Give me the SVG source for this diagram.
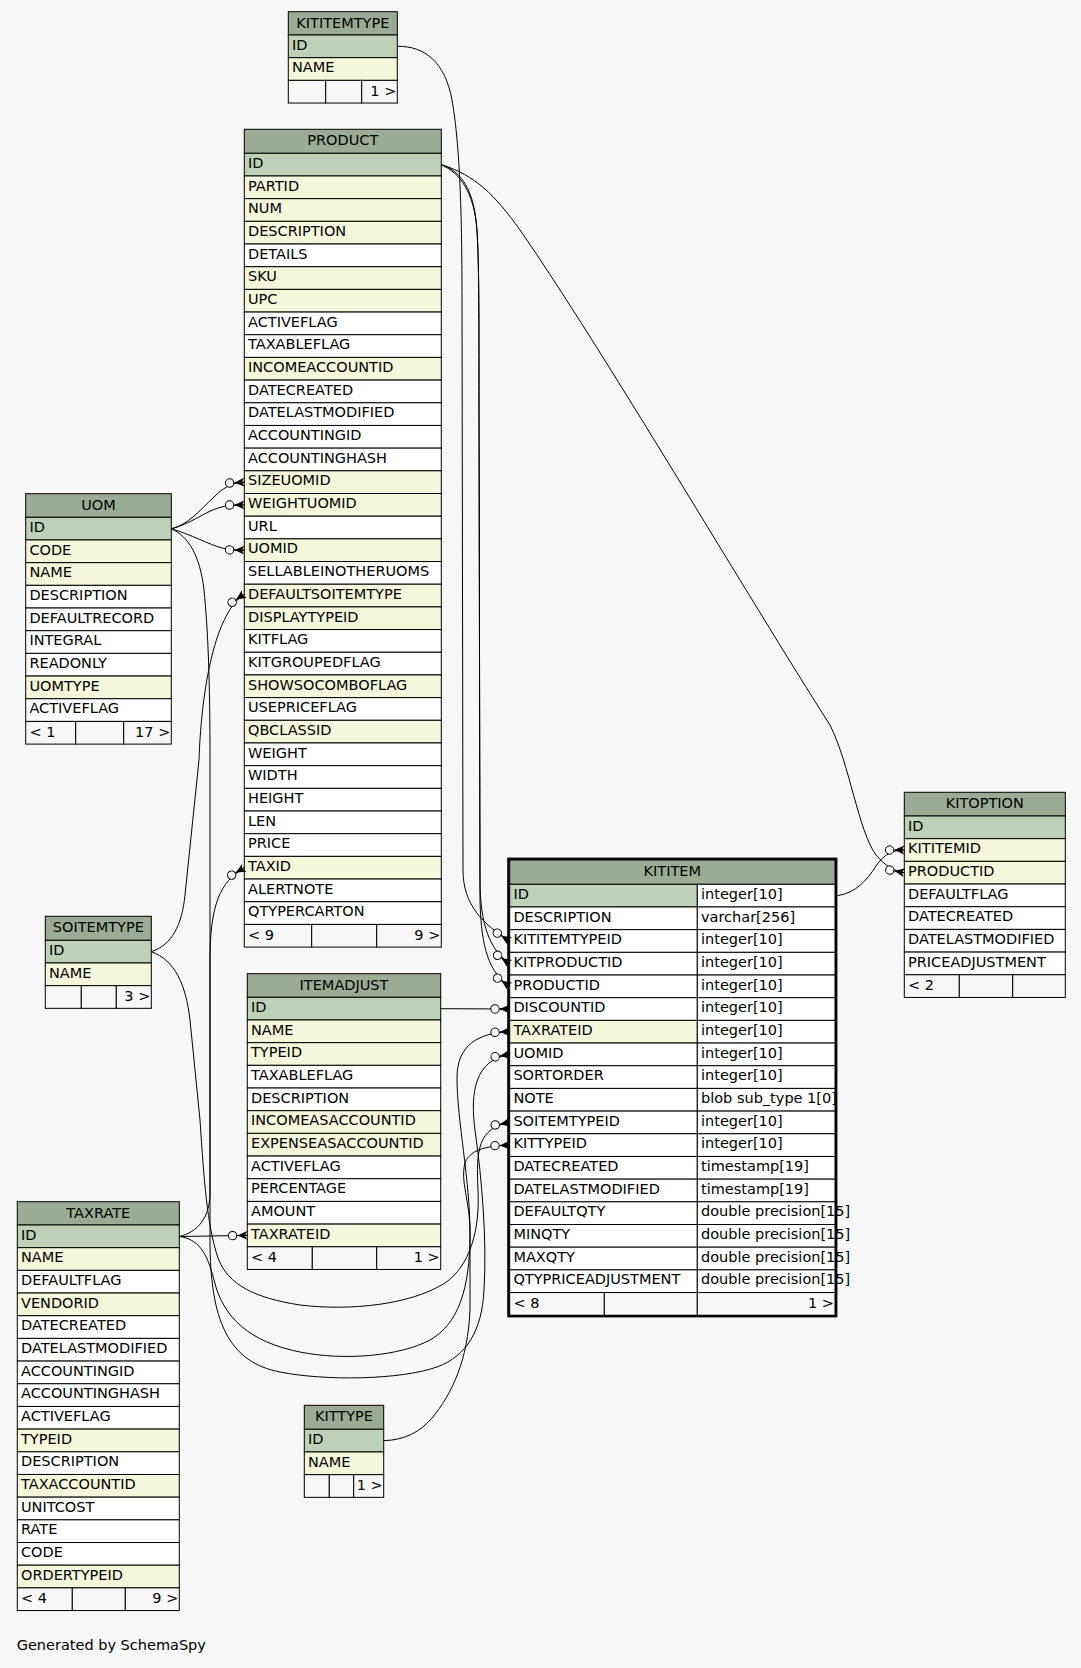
<svg xmlns="http://www.w3.org/2000/svg" width="1081" height="1668" viewBox="0 0 1081 1668">
<defs>
<style>
text{font-family:"DejaVu Sans","Liberation Sans",sans-serif;font-size:14.5px;fill:#000}
.h{fill:#9bab96;stroke:#000;stroke-width:1}
.p{fill:#bed1b8;stroke:#000;stroke-width:1}
.i{fill:#f4f7da;stroke:#000;stroke-width:1}
.w{fill:#fff;stroke:#000;stroke-width:1}
.f{fill:#f7f7f7;stroke:#000;stroke-width:1}
.m{text-anchor:middle}
.e{text-anchor:end}
.cn path{fill:none;stroke:#000;stroke-width:1;marker-end:url(#fk)}
</style>
<marker id="fk" markerUnits="userSpaceOnUse" markerWidth="24" markerHeight="14" refX="22" refY="7" orient="auto" overflow="visible">
<path d="M12,7 L22,7" stroke="#000" fill="none"/>
<polygon points="12,7 22,2.6 19.6,7 22,11.4" fill="#000"/>
<circle cx="7.3" cy="7" r="4.2" fill="#f7f7f7" stroke="#000"/>
</marker>
</defs>
<rect x="0" y="0" width="1081" height="1668" fill="#f7f7f7"/>

<g id="KITITEMTYPE">
<rect class="h" x="288.3" y="11.7" width="109" height="23.3"/><text class="m" x="342.8" y="27.7">KITITEMTYPE</text>
<rect class="p" x="288.3" y="35" width="109" height="22.68"/><text x="292" y="49.6">ID</text>
<rect class="i" x="288.3" y="57.68" width="109" height="22.68"/><text x="292" y="72.28">NAME</text>
<rect class="f" x="288.3" y="80.36" width="37.4" height="22.68"/><rect class="f" x="325.7" y="80.36" width="36" height="22.68"/><rect class="f" x="361.7" y="80.36" width="35.6" height="22.68"/>
<text class="e" x="396.3" y="95.56">1 &gt;</text>
</g>

<g id="PRODUCT">
<rect class="h" x="244.3" y="129.3" width="197" height="24"/><text class="m" x="342.8" y="145.3">PRODUCT</text>
<rect class="p" x="244.3" y="153.3" width="197" height="22.68"/><text x="248" y="167.9">ID</text>
<rect class="i" x="244.3" y="175.98" width="197" height="22.68"/><text x="248" y="190.58">PARTID</text>
<rect class="i" x="244.3" y="198.66" width="197" height="22.68"/><text x="248" y="213.26">NUM</text>
<rect class="i" x="244.3" y="221.34" width="197" height="22.68"/><text x="248" y="235.94">DESCRIPTION</text>
<rect class="w" x="244.3" y="244.02" width="197" height="22.68"/><text x="248" y="258.62">DETAILS</text>
<rect class="i" x="244.3" y="266.7" width="197" height="22.68"/><text x="248" y="281.3">SKU</text>
<rect class="i" x="244.3" y="289.38" width="197" height="22.68"/><text x="248" y="303.98">UPC</text>
<rect class="w" x="244.3" y="312.06" width="197" height="22.68"/><text x="248" y="326.66">ACTIVEFLAG</text>
<rect class="w" x="244.3" y="334.74" width="197" height="22.68"/><text x="248" y="349.34">TAXABLEFLAG</text>
<rect class="i" x="244.3" y="357.42" width="197" height="22.68"/><text x="248" y="372.02">INCOMEACCOUNTID</text>
<rect class="w" x="244.3" y="380.1" width="197" height="22.68"/><text x="248" y="394.7">DATECREATED</text>
<rect class="w" x="244.3" y="402.78" width="197" height="22.68"/><text x="248" y="417.38">DATELASTMODIFIED</text>
<rect class="w" x="244.3" y="425.46" width="197" height="22.68"/><text x="248" y="440.06">ACCOUNTINGID</text>
<rect class="w" x="244.3" y="448.14" width="197" height="22.68"/><text x="248" y="462.74">ACCOUNTINGHASH</text>
<rect class="i" x="244.3" y="470.82" width="197" height="22.68"/><text x="248" y="485.42">SIZEUOMID</text>
<rect class="i" x="244.3" y="493.5" width="197" height="22.68"/><text x="248" y="508.1">WEIGHTUOMID</text>
<rect class="w" x="244.3" y="516.18" width="197" height="22.68"/><text x="248" y="530.78">URL</text>
<rect class="i" x="244.3" y="538.86" width="197" height="22.68"/><text x="248" y="553.46">UOMID</text>
<rect class="w" x="244.3" y="561.54" width="197" height="22.68"/><text x="248" y="576.14">SELLABLEINOTHERUOMS</text>
<rect class="i" x="244.3" y="584.22" width="197" height="22.68"/><text x="248" y="598.82">DEFAULTSOITEMTYPE</text>
<rect class="i" x="244.3" y="606.9" width="197" height="22.68"/><text x="248" y="621.5">DISPLAYTYPEID</text>
<rect class="w" x="244.3" y="629.58" width="197" height="22.68"/><text x="248" y="644.18">KITFLAG</text>
<rect class="w" x="244.3" y="652.26" width="197" height="22.68"/><text x="248" y="666.86">KITGROUPEDFLAG</text>
<rect class="i" x="244.3" y="674.94" width="197" height="22.68"/><text x="248" y="689.54">SHOWSOCOMBOFLAG</text>
<rect class="w" x="244.3" y="697.62" width="197" height="22.68"/><text x="248" y="712.22">USEPRICEFLAG</text>
<rect class="i" x="244.3" y="720.3" width="197" height="22.68"/><text x="248" y="734.9">QBCLASSID</text>
<rect class="w" x="244.3" y="742.98" width="197" height="22.68"/><text x="248" y="757.58">WEIGHT</text>
<rect class="w" x="244.3" y="765.66" width="197" height="22.68"/><text x="248" y="780.26">WIDTH</text>
<rect class="w" x="244.3" y="788.34" width="197" height="22.68"/><text x="248" y="802.94">HEIGHT</text>
<rect class="w" x="244.3" y="811.02" width="197" height="22.68"/><text x="248" y="825.62">LEN</text>
<rect class="w" x="244.3" y="833.7" width="197" height="22.68"/><text x="248" y="848.3">PRICE</text>
<rect class="i" x="244.3" y="856.38" width="197" height="22.68"/><text x="248" y="870.98">TAXID</text>
<rect class="w" x="244.3" y="879.06" width="197" height="22.68"/><text x="248" y="893.66">ALERTNOTE</text>
<rect class="w" x="244.3" y="901.74" width="197" height="22.68"/><text x="248" y="916.34">QTYPERCARTON</text>
<rect class="f" x="244.3" y="924.42" width="67.4" height="22.68"/><rect class="f" x="311.7" y="924.42" width="65" height="22.68"/><rect class="f" x="376.7" y="924.42" width="64.6" height="22.68"/>
<text x="248" y="939.62">&lt; 9</text><text class="e" x="440.3" y="939.62">9 &gt;</text>
</g>

<g id="UOM">
<rect class="h" x="25.7" y="493.7" width="145.6" height="23.6"/><text class="m" x="98.5" y="509.7">UOM</text>
<rect class="p" x="25.7" y="517.3" width="145.6" height="22.68"/><text x="29.4" y="531.9">ID</text>
<rect class="i" x="25.7" y="539.98" width="145.6" height="22.68"/><text x="29.4" y="554.58">CODE</text>
<rect class="i" x="25.7" y="562.66" width="145.6" height="22.68"/><text x="29.4" y="577.26">NAME</text>
<rect class="w" x="25.7" y="585.34" width="145.6" height="22.68"/><text x="29.4" y="599.94">DESCRIPTION</text>
<rect class="w" x="25.7" y="608.02" width="145.6" height="22.68"/><text x="29.4" y="622.62">DEFAULTRECORD</text>
<rect class="w" x="25.7" y="630.7" width="145.6" height="22.68"/><text x="29.4" y="645.3">INTEGRAL</text>
<rect class="w" x="25.7" y="653.38" width="145.6" height="22.68"/><text x="29.4" y="667.98">READONLY</text>
<rect class="i" x="25.7" y="676.06" width="145.6" height="22.68"/><text x="29.4" y="690.66">UOMTYPE</text>
<rect class="w" x="25.7" y="698.74" width="145.6" height="22.68"/><text x="29.4" y="713.34">ACTIVEFLAG</text>
<rect class="f" x="25.7" y="721.42" width="50" height="22.68"/><rect class="f" x="75.7" y="721.42" width="48" height="22.68"/><rect class="f" x="123.7" y="721.42" width="47.6" height="22.68"/>
<text x="29.4" y="736.62">&lt; 1</text><text class="e" x="170.3" y="736.62">17 &gt;</text>
</g>

<g id="SOITEMTYPE">
<rect class="h" x="45.3" y="916.3" width="106" height="24"/><text class="m" x="98.3" y="932.3">SOITEMTYPE</text>
<rect class="p" x="45.3" y="940.3" width="106" height="22.68"/><text x="49" y="954.9">ID</text>
<rect class="i" x="45.3" y="962.98" width="106" height="22.68"/><text x="49" y="977.58">NAME</text>
<rect class="f" x="45.3" y="985.66" width="36" height="22.68"/><rect class="f" x="81.3" y="985.66" width="35" height="22.68"/><rect class="f" x="116.3" y="985.66" width="35" height="22.68"/>
<text class="e" x="150.3" y="1000.86">3 &gt;</text>
</g>

<g id="TAXRATE">
<rect class="h" x="17.3" y="1201.7" width="162" height="23.3"/><text class="m" x="98.3" y="1217.7">TAXRATE</text>
<rect class="p" x="17.3" y="1225" width="162" height="22.68"/><text x="21" y="1239.6">ID</text>
<rect class="i" x="17.3" y="1247.68" width="162" height="22.68"/><text x="21" y="1262.28">NAME</text>
<rect class="w" x="17.3" y="1270.36" width="162" height="22.68"/><text x="21" y="1284.96">DEFAULTFLAG</text>
<rect class="i" x="17.3" y="1293.04" width="162" height="22.68"/><text x="21" y="1307.64">VENDORID</text>
<rect class="w" x="17.3" y="1315.72" width="162" height="22.68"/><text x="21" y="1330.32">DATECREATED</text>
<rect class="w" x="17.3" y="1338.4" width="162" height="22.68"/><text x="21" y="1353">DATELASTMODIFIED</text>
<rect class="w" x="17.3" y="1361.08" width="162" height="22.68"/><text x="21" y="1375.68">ACCOUNTINGID</text>
<rect class="w" x="17.3" y="1383.76" width="162" height="22.68"/><text x="21" y="1398.36">ACCOUNTINGHASH</text>
<rect class="w" x="17.3" y="1406.44" width="162" height="22.68"/><text x="21" y="1421.04">ACTIVEFLAG</text>
<rect class="i" x="17.3" y="1429.12" width="162" height="22.68"/><text x="21" y="1443.72">TYPEID</text>
<rect class="w" x="17.3" y="1451.8" width="162" height="22.68"/><text x="21" y="1466.4">DESCRIPTION</text>
<rect class="i" x="17.3" y="1474.48" width="162" height="22.68"/><text x="21" y="1489.08">TAXACCOUNTID</text>
<rect class="w" x="17.3" y="1497.16" width="162" height="22.68"/><text x="21" y="1511.76">UNITCOST</text>
<rect class="w" x="17.3" y="1519.84" width="162" height="22.68"/><text x="21" y="1534.44">RATE</text>
<rect class="w" x="17.3" y="1542.52" width="162" height="22.68"/><text x="21" y="1557.12">CODE</text>
<rect class="i" x="17.3" y="1565.2" width="162" height="22.68"/><text x="21" y="1579.8">ORDERTYPEID</text>
<rect class="f" x="17.3" y="1587.88" width="55" height="22.68"/><rect class="f" x="72.3" y="1587.88" width="53" height="22.68"/><rect class="f" x="125.3" y="1587.88" width="54" height="22.68"/>
<text x="21" y="1603.08">&lt; 4</text><text class="e" x="178.3" y="1603.08">9 &gt;</text>
</g>

<g id="ITEMADJUST">
<rect class="h" x="247.3" y="973.7" width="193.4" height="23.6"/><text class="m" x="344" y="989.7">ITEMADJUST</text>
<rect class="p" x="247.3" y="997.3" width="193.4" height="22.68"/><text x="251" y="1011.9">ID</text>
<rect class="i" x="247.3" y="1019.98" width="193.4" height="22.68"/><text x="251" y="1034.58">NAME</text>
<rect class="i" x="247.3" y="1042.66" width="193.4" height="22.68"/><text x="251" y="1057.26">TYPEID</text>
<rect class="w" x="247.3" y="1065.34" width="193.4" height="22.68"/><text x="251" y="1079.94">TAXABLEFLAG</text>
<rect class="w" x="247.3" y="1088.02" width="193.4" height="22.68"/><text x="251" y="1102.62">DESCRIPTION</text>
<rect class="i" x="247.3" y="1110.7" width="193.4" height="22.68"/><text x="251" y="1125.3">INCOMEASACCOUNTID</text>
<rect class="i" x="247.3" y="1133.38" width="193.4" height="22.68"/><text x="251" y="1147.98">EXPENSEASACCOUNTID</text>
<rect class="w" x="247.3" y="1156.06" width="193.4" height="22.68"/><text x="251" y="1170.66">ACTIVEFLAG</text>
<rect class="w" x="247.3" y="1178.74" width="193.4" height="22.68"/><text x="251" y="1193.34">PERCENTAGE</text>
<rect class="w" x="247.3" y="1201.42" width="193.4" height="22.68"/><text x="251" y="1216.02">AMOUNT</text>
<rect class="i" x="247.3" y="1224.1" width="193.4" height="22.68"/><text x="251" y="1238.7">TAXRATEID</text>
<rect class="f" x="247.3" y="1246.78" width="65" height="22.68"/><rect class="f" x="312.3" y="1246.78" width="64.4" height="22.68"/><rect class="f" x="376.7" y="1246.78" width="64" height="22.68"/>
<text x="251" y="1261.98">&lt; 4</text><text class="e" x="439.7" y="1261.98">1 &gt;</text>
</g>

<g id="KITTYPE">
<rect class="h" x="304.3" y="1405.3" width="79.4" height="24"/><text class="m" x="344" y="1421.3">KITTYPE</text>
<rect class="p" x="304.3" y="1429.3" width="79.4" height="22.68"/><text x="308" y="1443.9">ID</text>
<rect class="i" x="304.3" y="1451.98" width="79.4" height="22.68"/><text x="308" y="1466.58">NAME</text>
<rect class="f" x="304.3" y="1474.66" width="25" height="22.68"/><rect class="f" x="329.3" y="1474.66" width="24.4" height="22.68"/><rect class="f" x="353.7" y="1474.66" width="30" height="22.68"/>
<text class="e" x="382.7" y="1489.86">1 &gt;</text>
</g>

<g id="KITOPTION">
<rect class="h" x="904.3" y="792.3" width="161" height="23.7"/><text class="m" x="984.8" y="808.3">KITOPTION</text>
<rect class="p" x="904.3" y="816" width="161" height="22.68"/><text x="908" y="830.6">ID</text>
<rect class="i" x="904.3" y="838.68" width="161" height="22.68"/><text x="908" y="853.28">KITITEMID</text>
<rect class="i" x="904.3" y="861.36" width="161" height="22.68"/><text x="908" y="875.96">PRODUCTID</text>
<rect class="w" x="904.3" y="884.04" width="161" height="22.68"/><text x="908" y="898.64">DEFAULTFLAG</text>
<rect class="w" x="904.3" y="906.72" width="161" height="22.68"/><text x="908" y="921.32">DATECREATED</text>
<rect class="w" x="904.3" y="929.4" width="161" height="22.68"/><text x="908" y="944">DATELASTMODIFIED</text>
<rect class="w" x="904.3" y="952.08" width="161" height="22.68"/><text x="908" y="966.68">PRICEADJUSTMENT</text>
<rect class="f" x="904.3" y="974.76" width="55" height="22.68"/><rect class="f" x="959.3" y="974.76" width="53.4" height="22.68"/><rect class="f" x="1012.7" y="974.76" width="52.6" height="22.68"/>
<text x="908" y="989.96">&lt; 2</text>
</g>

<g id="KITITEM">
<rect class="h" x="509.7" y="860" width="325.3" height="24.3"/><text class="m" x="672.3" y="876.3">KITITEM</text>
<rect class="p" x="509.7" y="884.3" width="187.6" height="22.68"/><rect class="w" x="697.3" y="884.3" width="137.7" height="22.68"/><text x="513.4" y="898.9">ID</text><text x="701" y="898.9">integer[10]</text>
<rect class="w" x="509.7" y="906.98" width="187.6" height="22.68"/><rect class="w" x="697.3" y="906.98" width="137.7" height="22.68"/><text x="513.4" y="921.58">DESCRIPTION</text><text x="701" y="921.58">varchar[256]</text>
<rect class="w" x="509.7" y="929.66" width="187.6" height="22.68"/><rect class="w" x="697.3" y="929.66" width="137.7" height="22.68"/><text x="513.4" y="944.26">KITITEMTYPEID</text><text x="701" y="944.26">integer[10]</text>
<rect class="w" x="509.7" y="952.34" width="187.6" height="22.68"/><rect class="w" x="697.3" y="952.34" width="137.7" height="22.68"/><text x="513.4" y="966.94">KITPRODUCTID</text><text x="701" y="966.94">integer[10]</text>
<rect class="w" x="509.7" y="975.02" width="187.6" height="22.68"/><rect class="w" x="697.3" y="975.02" width="137.7" height="22.68"/><text x="513.4" y="989.62">PRODUCTID</text><text x="701" y="989.62">integer[10]</text>
<rect class="w" x="509.7" y="997.7" width="187.6" height="22.68"/><rect class="w" x="697.3" y="997.7" width="137.7" height="22.68"/><text x="513.4" y="1012.3">DISCOUNTID</text><text x="701" y="1012.3">integer[10]</text>
<rect class="i" x="509.7" y="1020.38" width="187.6" height="22.68"/><rect class="w" x="697.3" y="1020.38" width="137.7" height="22.68"/><text x="513.4" y="1034.98">TAXRATEID</text><text x="701" y="1034.98">integer[10]</text>
<rect class="w" x="509.7" y="1043.06" width="187.6" height="22.68"/><rect class="w" x="697.3" y="1043.06" width="137.7" height="22.68"/><text x="513.4" y="1057.66">UOMID</text><text x="701" y="1057.66">integer[10]</text>
<rect class="w" x="509.7" y="1065.74" width="187.6" height="22.68"/><rect class="w" x="697.3" y="1065.74" width="137.7" height="22.68"/><text x="513.4" y="1080.34">SORTORDER</text><text x="701" y="1080.34">integer[10]</text>
<rect class="w" x="509.7" y="1088.42" width="187.6" height="22.68"/><rect class="w" x="697.3" y="1088.42" width="137.7" height="22.68"/><text x="513.4" y="1103.02">NOTE</text><text x="701" y="1103.02">blob sub_type 1[0]</text>
<rect class="w" x="509.7" y="1111.1" width="187.6" height="22.68"/><rect class="w" x="697.3" y="1111.1" width="137.7" height="22.68"/><text x="513.4" y="1125.7">SOITEMTYPEID</text><text x="701" y="1125.7">integer[10]</text>
<rect class="w" x="509.7" y="1133.78" width="187.6" height="22.68"/><rect class="w" x="697.3" y="1133.78" width="137.7" height="22.68"/><text x="513.4" y="1148.38">KITTYPEID</text><text x="701" y="1148.38">integer[10]</text>
<rect class="w" x="509.7" y="1156.46" width="187.6" height="22.68"/><rect class="w" x="697.3" y="1156.46" width="137.7" height="22.68"/><text x="513.4" y="1171.06">DATECREATED</text><text x="701" y="1171.06">timestamp[19]</text>
<rect class="w" x="509.7" y="1179.14" width="187.6" height="22.68"/><rect class="w" x="697.3" y="1179.14" width="137.7" height="22.68"/><text x="513.4" y="1193.74">DATELASTMODIFIED</text><text x="701" y="1193.74">timestamp[19]</text>
<rect class="w" x="509.7" y="1201.82" width="187.6" height="22.68"/><rect class="w" x="697.3" y="1201.82" width="137.7" height="22.68"/><text x="513.4" y="1216.42">DEFAULTQTY</text><text x="701" y="1216.42">double precision[15]</text>
<rect class="w" x="509.7" y="1224.5" width="187.6" height="22.68"/><rect class="w" x="697.3" y="1224.5" width="137.7" height="22.68"/><text x="513.4" y="1239.1">MINQTY</text><text x="701" y="1239.1">double precision[15]</text>
<rect class="w" x="509.7" y="1247.18" width="187.6" height="22.68"/><rect class="w" x="697.3" y="1247.18" width="137.7" height="22.68"/><text x="513.4" y="1261.78">MAXQTY</text><text x="701" y="1261.78">double precision[15]</text>
<rect class="w" x="509.7" y="1269.86" width="187.6" height="22.68"/><rect class="w" x="697.3" y="1269.86" width="137.7" height="22.68"/><text x="513.4" y="1284.46">QTYPRICEADJUSTMENT</text><text x="701" y="1284.46">double precision[15]</text>
<rect class="f" x="509.7" y="1292.54" width="94.6" height="22.68"/><rect class="f" x="604.3" y="1292.54" width="93" height="22.68"/><rect class="f" x="697.3" y="1292.54" width="137.7" height="22.68"/>
<text x="513.4" y="1307.74">&lt; 8</text><text class="e" x="834" y="1307.74">1 &gt;</text>
<rect x="508.4" y="858.8" width="327.8" height="457.4" fill="none" stroke="#000" stroke-width="2.4"/>
</g>

<g id="connectors" class="cn">
<path d="M397.3,46.3 C425,46 445,62 452,100 C459,140 462,200 462,300 L463,870 C463,905 483,924 509.7,941"/>
<path d="M441.3,164.7 C458,170 472,185 476,220 C479,250 479,300 479,400 L480,880 C480,925 490,950 509.7,963.7"/>
<path d="M441.3,164.7 C460,173 474,192 477,230 C479,260 479,310 479,410 L480,900 C481,950 490,973 509.7,986.4"/>
<path d="M441.3,164.7 C475,175 495,195 520,230 C600,345 750,600 830,725 C850,765 858,830 876,855 C886,867 895,871 904.3,872.7"/>
<path d="M837.3,895.7 C856,893 867,880 876,866 C884,854 893,850 904.3,850"/>
<path d="M440.7,1008.7 L509.7,1009"/>
<path d="M179.3,1236.5 L247.3,1235.4"/>
<path d="M179.3,1236.5 C198,1232 209,1218 210,1195 L210,960 C210,905 220,882 244.3,867.7"/>
<path d="M179.3,1236.5 C198,1239 207,1252 214,1280 C223,1318 250,1342 300,1352 C345,1361 400,1356 430,1340 C458,1324 470,1290 470,1233 C470,1180 457,1120 457,1078 C457,1045 478,1033 509.7,1031.7"/>
<path d="M171.3,528.8 C188,525 200,510 214,497 C222,489 230,483 244.3,482.2"/>
<path d="M171.3,528.8 C190,524 205,512 218,508 C227,505 235,505 244.3,504.9"/>
<path d="M171.3,528.8 C190,534 210,545 222,548 C230,550 236,550 244.3,550.2"/>
<path d="M171.3,528.8 C188,536 200,555 204,590 C208,630 210,680 210,760 L210,1240 C210,1320 228,1362 280,1372 C325,1381 400,1380 437,1367 C467,1356 482,1330 484,1290 C487,1240 482,1180 475,1130 C470,1092 475,1060 509.7,1054.4"/>
<path d="M151.3,951.7 C172,945 182,925 185,895 L199,760 C201,700 212,616 244.3,594"/>
<path d="M151.3,951.7 C175,960 186,985 190,1020 L200,1120 C204,1180 207,1225 218,1258 C228,1285 255,1298 300,1305 C350,1311 410,1305 445,1283 C470,1266 480,1230 478,1190 C476,1150 478,1128 509.7,1122.4"/>
<path d="M383.7,1440.7 C405,1440 420,1432 432,1418 C452,1394 468,1360 470,1310 L470,1233 C470,1200 460,1182 465,1163 C470,1150 485,1146 509.7,1145.1"/>
</g>

<text x="16.7" y="1650">Generated by SchemaSpy</text>
</svg>
